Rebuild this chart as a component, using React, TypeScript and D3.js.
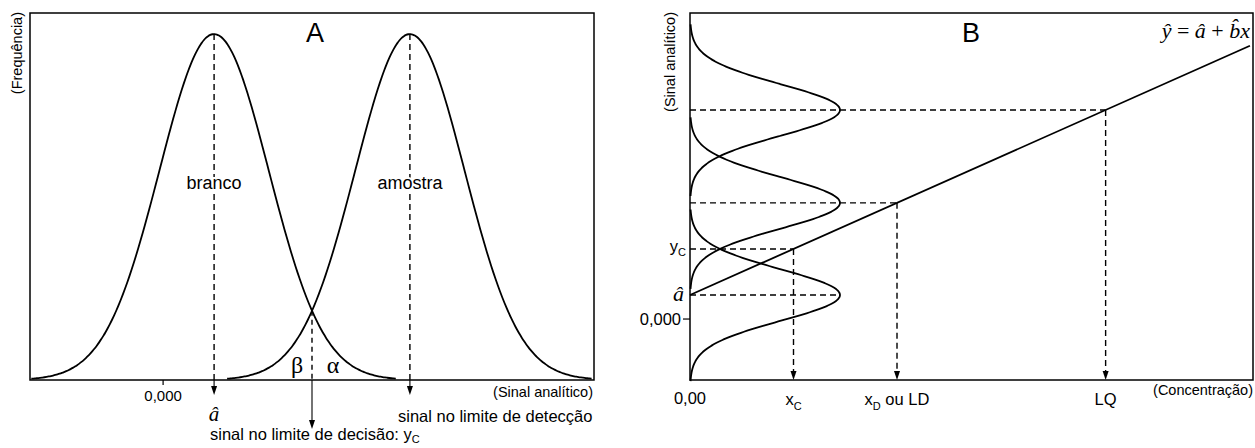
import React from "react";
import * as d3 from "d3";

// ---- data (signal units: 0,000 = zero signal) ----
const distributionLabels = ["branco", "amostra"];
const distributionMeans = [1.0, 4.84]; // â (blank), y_D (sample at detection limit)
const SIGMA = 1.07;
const decisionSignal = 2.92; // y_C
const calibrationPeaks = [1.0, 4.84, 8.71]; // â, y_D, y_Q
const interceptA = 1.0;
const slopeB = 1.892;
const signalTicksA = [0];
const signalTicksALabels = ["0,000"];
const concTicks = [0];
const concTickLabels = ["0,00"];

const SANS = "'Liberation Sans', Arial, sans-serif";
const SERIF = "'Liberation Serif', 'Times New Roman', serif";

const gauss = (v: number, m: number) => Math.exp(-((v - m) ** 2) / (2 * SIGMA * SIGMA));
const span = 3.35;

function arrowDown(x: number, tip: number) {
  return `${x - 3},${tip - 9} ${x + 3},${tip - 9} ${x},${tip}`;
}

export default function App() {
  // Panel A scales
  const xA = d3.scaleLinear().domain([-2.61, 8.45]).range([30, 594]);
  const yA = d3.scaleLinear().domain([0, 1]).range([380, 34]);
  // Panel B scales
  const xB = d3.scaleLinear().domain([0, 5.52]).range([690, 1253]);
  const yB = d3.scaleLinear().domain([-2.54, 12.75]).range([380, 13]);
  const fB = d3.scaleLinear().domain([0, 1]).range([690, 840]);

  const lineA = d3
    .line<number[]>()
    .x((d) => xA(d[0]))
    .y((d) => yA(d[1]))
    .curve(d3.curveBasis);
  const curvesA = distributionMeans.map((m) =>
    lineA(d3.range(m - span * SIGMA, m + span * SIGMA + 0.001, SIGMA / 25).map((v) => [v, gauss(v, m)]))
  );

  const lineB = d3
    .line<number[]>()
    .x((d) => fB(d[1]))
    .y((d) => yB(d[0]))
    .curve(d3.curveBasis);
  const curvesB = calibrationPeaks.map((m) =>
    lineB(d3.range(m - span * SIGMA, m + span * SIGMA + 0.001, SIGMA / 25).map((v) => [v, gauss(v, m)]))
  );

  const concOf = (s: number) => (s - interceptA) / slopeB;
  const xC = concOf(decisionSignal);
  const xD = concOf(calibrationPeaks[1]);
  const xQ = concOf(calibrationPeaks[2]);
  const calEnd = 5.49;
  const calLine = d3.line<number[]>().x((d) => xB(d[0])).y((d) => yB(d[1]))([
    [0, interceptA],
    [calEnd, interceptA + slopeB * calEnd],
  ]);

  const crossV = decisionSignal;
  const crossY = gauss(crossV, distributionMeans[0]);

  const dash = "6,4";
  const axisBottomA = yA(0);
  const axisBottomB = yB.range()[0];

  return (
    <svg width={1255} height={448} style={{ position: "absolute", left: 0, top: 0 }}>
      <rect width={1255} height={448} fill="#fff" />
      {/* ================= Panel A ================= */}
      <g>
        <rect x={30} y={13} width={564} height={367} fill="none" stroke="#000" strokeWidth={1.5} />
        {curvesA.map((d, i) => (
          <path key={i} d={d || ""} fill="none" stroke="#000" strokeWidth={1.8} />
        ))}
        {/* dashed mean lines */}
        {distributionMeans.map((m, i) => (
          <g key={i}>
            <line x1={xA(m)} x2={xA(m)} y1={yA(1)} y2={axisBottomA} stroke="#000" strokeWidth={1.4} strokeDasharray={dash} />
            <line x1={xA(m)} x2={xA(m)} y1={axisBottomA} y2={395 - 8} stroke="#000" strokeWidth={1.1} />
            <polygon points={arrowDown(xA(m), 395)} fill="#000" />
          </g>
        ))}
        {/* decision line */}
        <line x1={xA(crossV)} x2={xA(crossV)} y1={yA(crossY)} y2={axisBottomA} stroke="#000" strokeWidth={1.4} strokeDasharray="5,4" />
        <line x1={xA(crossV)} x2={xA(crossV)} y1={axisBottomA} y2={429 - 8} stroke="#000" strokeWidth={1.1} />
        <polygon points={arrowDown(xA(crossV), 429)} fill="#000" />
        {/* ticks */}
        {signalTicksA.map((t, i) => (
          <g key={i}>
            <line x1={xA(t)} x2={xA(t)} y1={axisBottomA} y2={axisBottomA + 5} stroke="#000" strokeWidth={1.2} />
            <text x={xA(t)} y={401} textAnchor="middle" fontFamily={SANS} fontSize={15}>
              {signalTicksALabels[i]}
            </text>
          </g>
        ))}
        <text transform="translate(22,12) rotate(-90)" textAnchor="end" fontFamily={SANS} fontSize={14.5}>
          (Frequência)
        </text>
        <text x={315} y={42} textAnchor="middle" fontFamily={SANS} fontSize={27}>
          A
        </text>
        {distributionLabels.map((l, i) => (
          <text key={l} x={xA(distributionMeans[i])} y={189} textAnchor="middle" fontFamily={SANS} fontSize={18} stroke="#fff" strokeWidth={4} paintOrder="stroke">
            {l}
          </text>
        ))}
        <text x={xA(crossV) - 15} y={373} textAnchor="middle" fontFamily={SERIF} fontSize={24}>
          β
        </text>
        <text x={xA(crossV) + 21} y={373} textAnchor="middle" fontFamily={SERIF} fontSize={24}>
          α
        </text>
        <text x={xA(distributionMeans[0])} y={421} textAnchor="middle" fontFamily={SERIF} fontStyle="italic" fontSize={21}>
          â
        </text>
        <text x={593} y={397} textAnchor="end" fontFamily={SANS} fontSize={14.5}>
          (Sinal analítico)
        </text>
        <text x={398} y={422} fontFamily={SANS} fontSize={16.5}>
          sinal no limite de detecção
        </text>
        <text x={210} y={440} fontFamily={SANS} fontSize={16.5}>
          sinal no limite de decisão: y<tspan dy={3} fontSize={11}>C</tspan>
        </text>
      </g>

      {/* ================= Panel B ================= */}
      <g>
        <rect x={690} y={13} width={563} height={367} fill="none" stroke="#000" strokeWidth={1.5} />
        {curvesB.map((d, i) => (
          <path key={i} d={d || ""} fill="none" stroke="#000" strokeWidth={1.8} />
        ))}
        <path d={calLine || ""} fill="none" stroke="#000" strokeWidth={1.8} />
        {/* horizontal dashed lines */}
        <line x1={xB(0)} x2={fB(1)} y1={yB(interceptA)} y2={yB(interceptA)} stroke="#000" strokeWidth={1.4} strokeDasharray={dash} />
        <line x1={xB(0)} x2={xB(xC)} y1={yB(decisionSignal)} y2={yB(decisionSignal)} stroke="#000" strokeWidth={1.4} strokeDasharray={dash} />
        <line x1={xB(0)} x2={xB(xD)} y1={yB(calibrationPeaks[1])} y2={yB(calibrationPeaks[1])} stroke="#000" strokeWidth={1.4} strokeDasharray={dash} />
        <line x1={xB(0)} x2={xB(xQ)} y1={yB(calibrationPeaks[2])} y2={yB(calibrationPeaks[2])} stroke="#000" strokeWidth={1.4} strokeDasharray={dash} />
        {/* vertical dashed arrows */}
        {[
          [xC, decisionSignal],
          [xD, calibrationPeaks[1]],
          [xQ, calibrationPeaks[2]],
        ].map(([c, s], i) => (
          <g key={i}>
            <line x1={xB(c)} x2={xB(c)} y1={yB(s)} y2={axisBottomB - 8} stroke="#000" strokeWidth={1.4} strokeDasharray={dash} />
            <polygon points={arrowDown(xB(c), axisBottomB)} fill="#000" />
          </g>
        ))}
        {/* y tick */}
        <line x1={683} x2={690} y1={yB(0)} y2={yB(0)} stroke="#000" strokeWidth={1.2} />
        <text x={681} y={yB(0) + 6} textAnchor="end" fontFamily={SANS} fontSize={16.5}>
          0,000
        </text>
        <text x={684} y={yB(interceptA) + 6} textAnchor="end" fontFamily={SERIF} fontStyle="italic" fontSize={22}>
          â
        </text>
        <text x={686} y={yB(decisionSignal) + 3} textAnchor="end" fontFamily={SANS} fontSize={16.5}>
          y<tspan dy={4} fontSize={11}>C</tspan>
        </text>
        {/* x labels */}
        {concTicks.map((t, i) => (
          <text key={i} x={xB(t)} y={404} textAnchor="middle" fontFamily={SANS} fontSize={16.5}>
            {concTickLabels[i]}
          </text>
        ))}
        <text x={xB(xC)} y={405} textAnchor="middle" fontFamily={SANS} fontSize={16.5}>
          x<tspan dy={5} fontSize={11}>C</tspan>
        </text>
        <text x={xB(xD)} y={405} textAnchor="middle" fontFamily={SANS} fontSize={16.5}>
          x<tspan dy={5} fontSize={11}>D</tspan>
          <tspan dy={-5}> ou LD</tspan>
        </text>
        <text x={xB(xQ)} y={405} textAnchor="middle" fontFamily={SANS} fontSize={16.5}>
          LQ
        </text>
        <text x={1253} y={395} textAnchor="end" fontFamily={SANS} fontSize={14.5}>
          (Concentração)
        </text>
        <text transform="translate(675,12) rotate(-90)" textAnchor="end" fontFamily={SANS} fontSize={14.5}>
          (Sinal analítico)
        </text>
        <text x={971} y={42} textAnchor="middle" fontFamily={SANS} fontSize={27}>
          B
        </text>
        <text x={1250} y={38} textAnchor="end" fontFamily={SERIF} fontSize={22}>
          <tspan fontStyle="italic">ŷ</tspan> = <tspan fontStyle="italic">â</tspan> + <tspan fontStyle="italic">b̂x</tspan>
        </text>
      </g>
    </svg>
  );
}
